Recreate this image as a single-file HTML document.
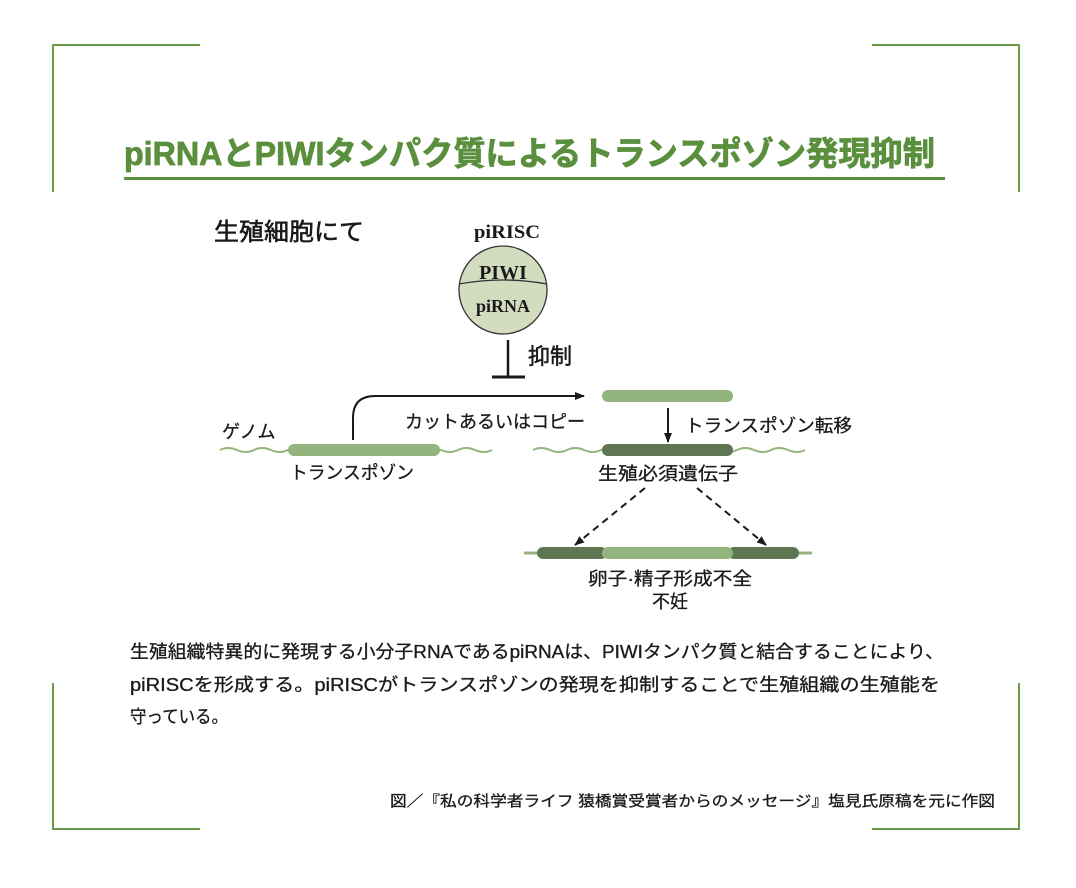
<!DOCTYPE html>
<html><head><meta charset="utf-8"><style>
html,body{margin:0;padding:0;background:#fff;}
svg{display:block;}
text{font-family:"Liberation Sans","Noto Sans CJK JP",sans-serif;fill:#1a1a1a;stroke:#1a1a1a;stroke-width:0.3;}
.serif{font-family:"Liberation Serif","Noto Serif CJK SC",serif;}
</style></head><body>
<svg width="1076" height="888" viewBox="0 0 1076 888" xmlns="http://www.w3.org/2000/svg">
<defs>
<marker id="ah" markerWidth="10" markerHeight="10" refX="9" refY="5" orient="auto" markerUnits="userSpaceOnUse">
<path d="M0,1 L10,5 L0,9 Z" fill="#1a1a1a"/></marker>
</defs>
<g stroke="#6a9a4a" stroke-width="2" fill="none">
<path d="M200,45 H53 V192"/>
<path d="M872,45 H1019 V192"/>
<path d="M53,683 V829 H200"/>
<path d="M1019,683 V829 H872"/>
</g>
<text x="124" y="165" font-size="33" font-weight="bold" style="fill:#5a8f3e;stroke:#5a8f3e;stroke-width:0.8" textLength="811" lengthAdjust="spacingAndGlyphs">piRNAとPIWIタンパク質によるトランスポゾン発現抑制</text>
<rect x="124" y="177" width="821" height="3" fill="#5a8f3e"/>

<text x="214" y="240" font-size="24" style="stroke-width:0.6" textLength="150" lengthAdjust="spacingAndGlyphs">生殖細胞にて</text>
<text class="serif" x="474" y="238" font-size="19" font-weight="bold" style="stroke-width:0" textLength="66" lengthAdjust="spacingAndGlyphs">piRISC</text>
<circle cx="503" cy="290" r="44" fill="#d3dcbf" stroke="#333" stroke-width="1.3"/>
<path d="M459,284 Q503,276 547,284" fill="none" stroke="#333" stroke-width="1.3"/>
<text class="serif" x="503" y="279" font-size="20" font-weight="bold" text-anchor="middle" style="stroke-width:0">PIWI</text>
<text class="serif" x="503" y="312" font-size="18" font-weight="bold" text-anchor="middle" style="stroke-width:0">piRNA</text>

<line x1="508" y1="340" x2="508" y2="377" stroke="#1a1a1a" stroke-width="2.5"/>
<line x1="492" y1="377" x2="525" y2="377" stroke="#1a1a1a" stroke-width="3"/>
<text x="528" y="364" font-size="22" style="stroke-width:0.5">抑制</text>

<path d="M353,440 V418 Q353,396 375,396 H584" fill="none" stroke="#1a1a1a" stroke-width="2" marker-end="url(#ah)"/>
<text x="405" y="428" font-size="18" textLength="180" lengthAdjust="spacingAndGlyphs">カットあるいはコピー</text>
<text x="222" y="438" font-size="18">ゲノム</text>

<path d="M220,450 q8,-4 17,0 t17,0 t17,0 t17,0 t17,0 t17,0 t17,0 t17,0 t17,0 t17,0 t17,0 t17,0 t17,0 t17,0 t17,0 t17,0" fill="none" stroke="#93b47c" stroke-width="2"/>
<rect x="288" y="444" width="152" height="12" rx="6" fill="#93b47c"/>
<text x="290" y="479" font-size="18" textLength="124" lengthAdjust="spacingAndGlyphs">トランスポゾン</text>

<rect x="602" y="390" width="131" height="12" rx="6" fill="#93b47c"/>
<line x1="668" y1="408" x2="668" y2="442" stroke="#1a1a1a" stroke-width="2" marker-end="url(#ah)"/>
<text x="685" y="432" font-size="18" textLength="167" lengthAdjust="spacingAndGlyphs">トランスポゾン転移</text>

<path d="M533,450 q8,-4 17,0 t17,0 t17,0 t17,0 t17,0 t17,0 t17,0 t17,0 t17,0 t17,0 t17,0 t17,0 t17,0 t17,0 t17,0 t17,0" fill="none" stroke="#93b47c" stroke-width="2"/>
<rect x="602" y="444" width="131" height="12" rx="6" fill="#5e7752"/>
<text x="598" y="480" font-size="18" textLength="140" lengthAdjust="spacingAndGlyphs">生殖必須遺伝子</text>

<line x1="645" y1="488" x2="575" y2="545" stroke="#1a1a1a" stroke-width="2" stroke-dasharray="7,5" marker-end="url(#ah)"/>
<line x1="697" y1="488" x2="766" y2="545" stroke="#1a1a1a" stroke-width="2" stroke-dasharray="7,5" marker-end="url(#ah)"/>

<line x1="524" y1="553" x2="812" y2="553" stroke="#93b47c" stroke-width="3"/>
<rect x="537" y="547" width="70" height="12" rx="6" fill="#5e7752"/>
<rect x="728" y="547" width="71" height="12" rx="6" fill="#5e7752"/>
<rect x="602" y="547" width="131" height="12" rx="6" fill="#93b47c"/>
<text x="670" y="585" font-size="18" text-anchor="middle" textLength="164" lengthAdjust="spacingAndGlyphs">卵子·精子形成不全</text>
<text x="670" y="608" font-size="18" text-anchor="middle">不妊</text>

<text x="130" y="658" font-size="18" textLength="814" lengthAdjust="spacingAndGlyphs">生殖組織特異的に発現する小分子RNAであるpiRNAは、PIWIタンパク質と結合することにより、</text>
<text x="130" y="691" font-size="18" textLength="810" lengthAdjust="spacingAndGlyphs">piRISCを形成する。piRISCがトランスポゾンの発現を抑制することで生殖組織の生殖能を</text>
<text x="130" y="723" font-size="18" textLength="98" lengthAdjust="spacingAndGlyphs">守っている。</text>

<text x="390" y="806" font-size="15" textLength="605" lengthAdjust="spacingAndGlyphs">図／『私の科学者ライフ 猿橋賞受賞者からのメッセージ』塩見氏原稿を元に作図</text>
</svg>
</body></html>
